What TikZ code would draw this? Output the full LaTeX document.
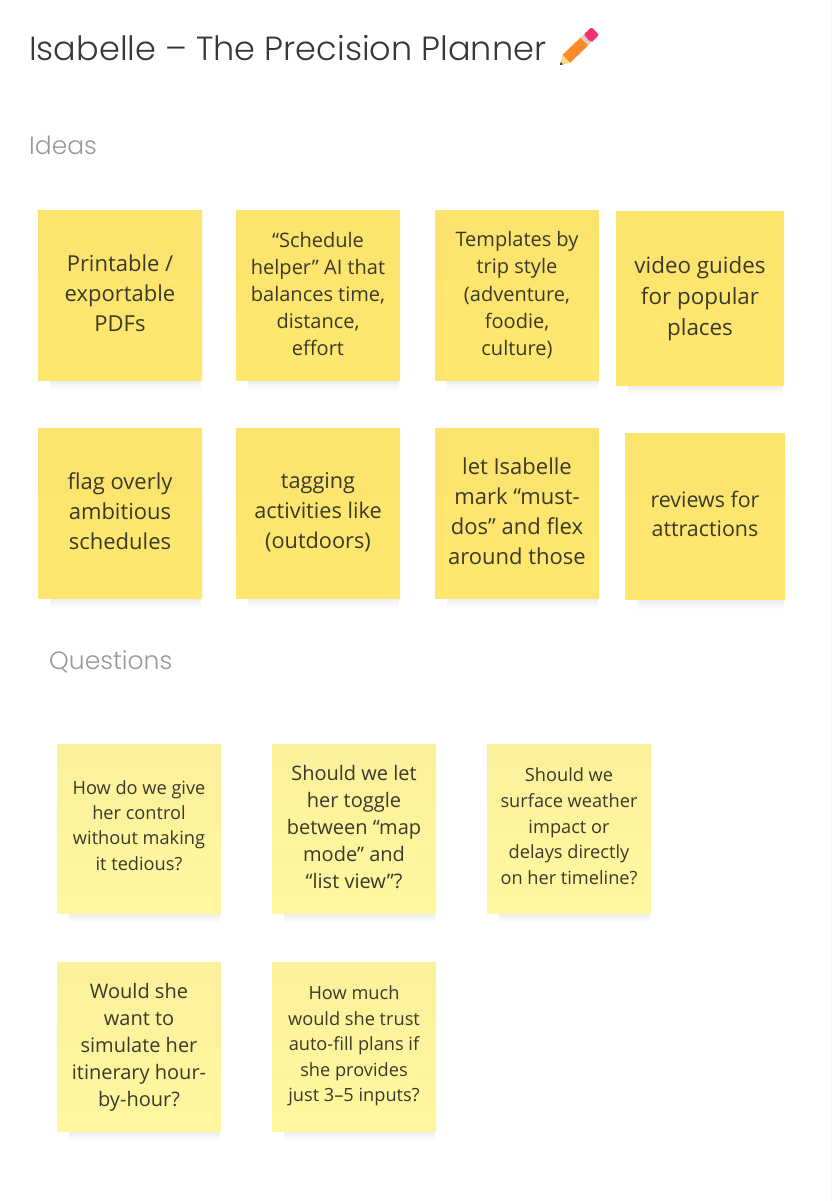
\documentclass[tikz,border=0pt]{standalone}
\usepackage{fontspec}
\setmainfont{Open Sans}
\newfontfamily\ttlfont[UprightFont=* Light]{Poppins}
\usetikzlibrary{calc}
\definecolor{ink}{HTML}{3A3A2A}
\definecolor{ideatop}{HTML}{FBE36E}
\definecolor{ideabot}{HTML}{FFE76F}
\definecolor{questop}{HTML}{FBF09B}
\definecolor{quesbot}{HTML}{FFF7A0}
\definecolor{pencilbody}{HTML}{FF8A2B}
\definecolor{pencilwood}{HTML}{FBD88A}
\definecolor{pencilrub}{HTML}{F5316F}
\definecolor{pencilband}{HTML}{D9D0C8}
\tikzset{
  x=1pt,y=-1pt,
  note/.style n args={2}{anchor=center,inner sep=0pt,align=center,text=ink,font=\fontsize{#1}{#2}\selectfont},
  ideanote/.style={top color=ideatop,bottom color=ideabot,draw=none},
  quesnote/.style={top color=questop,bottom color=quesbot,draw=none},
  headtext/.style={anchor=west,inner sep=0pt,text=black!40,font=\ttlfont\fontsize{25}{30}\selectfont},
}
\newcommand{\sticky}[6]{% name, fill style, x0, y0, x1, y1
  \foreach \k/\op in {10/.010,8/.012,6/.014,4/.016,2/.018}{
    \fill[black,opacity=\op] ($(#3,#6)+(12,-2)$) rectangle ($(#5,#6)+(-1,\k)$);
  }
  \path[#2] (#3,#4) rectangle (#5,#6);
  \coordinate (#1) at ($(#3,#4)!.5!(#5,#6)$);
}
\begin{document}
\begin{tikzpicture}
\useasboundingbox (0,0) rectangle (832,1201);
\fill[white] (0,0) rectangle (832,1201);
\fill[black!4] (831,0) rectangle (832,1201);
\node[anchor=west,inner sep=0pt,text=black!78,font=\ttlfont\fontsize{33.5}{40}\selectfont] (title) at (29,48) {Isabelle – The Precision Planner};
\begin{scope}[shift={(560,65)},rotate=44]
  \fill[pencilwood] (0,0) -- (9,-5.5) -- (9,5.5) -- cycle;
  \fill[black!80] (0,0) -- (2.5,-1.6) -- (2.5,1.6) -- cycle;
  \fill[pencilbody] (9,-5.5) rectangle (34,5.5);
  \fill[pencilband] (34,-5.5) rectangle (38,5.5);
  \fill[pencilrub,rounded corners=1.5pt] (38,-5.5) rectangle (49,5.5);
\end{scope}
\node[headtext] (ideas) at (29,145) {Ideas};
\node[headtext] (questions) at (49,662) {Questions};

\sticky{a}{ideanote}{38}{210}{202}{380}
\sticky{b}{ideanote}{236}{210}{400}{380}
\sticky{c}{ideanote}{435}{210}{599}{380}
\sticky{d}{ideanote}{616}{211}{784}{385}
\sticky{e}{ideanote}{38}{428}{202}{598}
\sticky{f}{ideanote}{236}{428}{400}{598}
\sticky{g}{ideanote}{435}{428}{599}{598}
\sticky{h}{ideanote}{625}{433}{785}{599}
\sticky{p}{quesnote}{57}{744}{221}{913}
\sticky{q}{quesnote}{272}{744}{436}{913}
\sticky{r}{quesnote}{487}{744}{651}{913}
\sticky{s}{quesnote}{57}{962}{221}{1131}
\sticky{t}{quesnote}{272}{962}{436}{1131}

\node[note={22}{30}] (ta) at ($(a)+(0,-2)$) {Printable /\\exportable\\PDFs};
\node[note={20}{27.2}] (tb) at ($(b)+(0,-1)$) {“Schedule\\helper” AI that\\balances time,\\distance,\\effort};
\node[note={20}{27.2}] (tc) at (c) {Templates by\\trip style\\(adventure,\\foodie,\\culture)};
\node[note={22.4}{31}] (td) at ($(d)+(0,0.5)$) {video guides\\for popular\\places};
\node[note={22}{30}] (te) at ($(e)+(0,-2)$) {flag overly\\ambitious\\schedules};
\node[note={21.7}{30}] (tf) at ($(f)+(0,-1)$) {tagging\\activities like\\(outdoors)};
\node[note={22}{30}] (tg) at ($(g)+(0,-2)$) {let Isabelle\\mark “must-\\dos” and flex\\around those};
\node[note={21.4}{29}] (th) at ($(h)+(0,-2)$) {reviews for\\attractions};
\node[note={18.2}{25.4}] (tp) at ($(p)+(0,-3)$) {How do we give\\her control\\without making\\it tedious?};
\node[note={20}{27}] (tq) at ($(q)+(0,-1.5)$) {Should we let\\her toggle\\between “map\\mode” and\\“list view”?};
\node[note={18.2}{25.7}] (tr) at ($(r)+(0,-2)$) {Should we\\surface weather\\impact or\\delays directly\\on her timeline?};
\node[note={20}{27}] (ts) at ($(s)+(0,0.5)$) {Would she\\want to\\simulate her\\itinerary hour-\\by-hour?};
\node[note={18.2}{25.4}] (tt) at ($(t)+(0,-0.5)$) {How much\\would she trust\\auto-fill plans if\\she provides\\just 3–5 inputs?};
\end{tikzpicture}
\end{document}
